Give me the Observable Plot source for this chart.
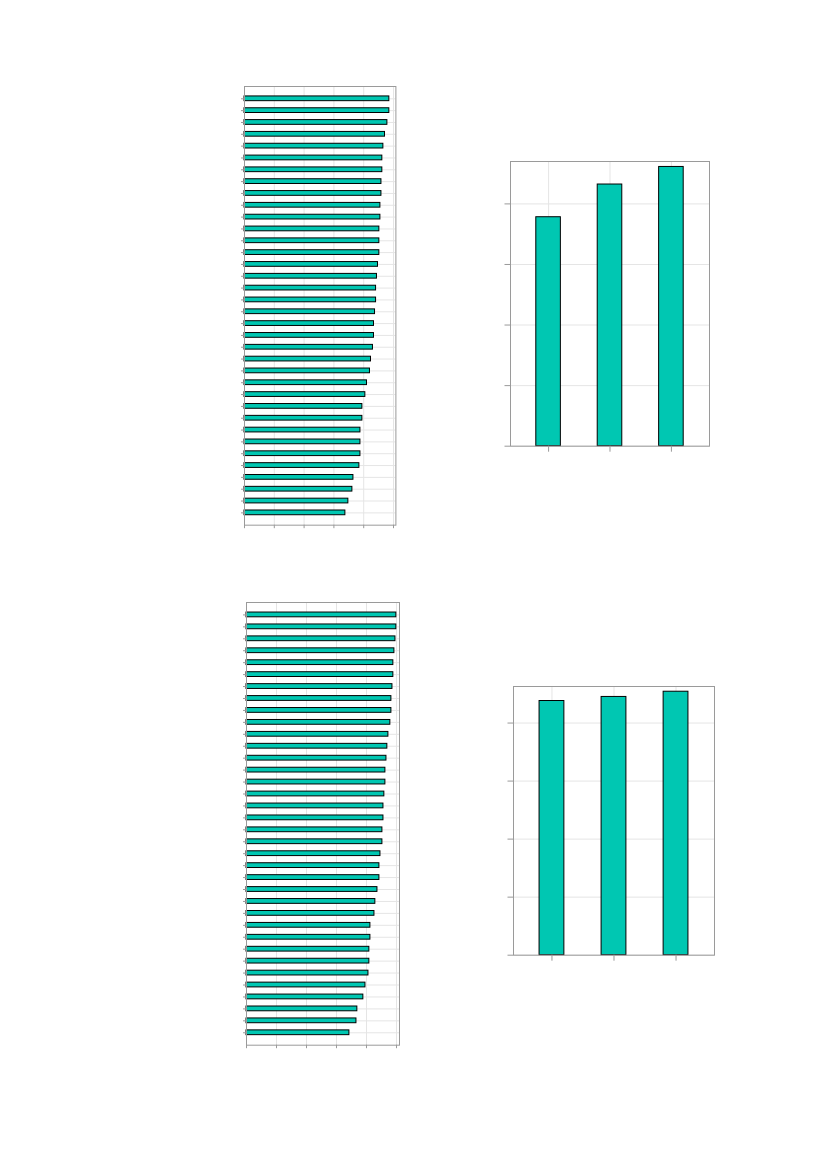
<!DOCTYPE html>
<html>
<head>
<meta charset="utf-8">
<script src="https://cdn.jsdelivr.net/npm/d3@7"></script>
<script src="https://cdn.jsdelivr.net/npm/@observablehq/plot@0.6"></script>
<style>
  html, body { margin: 0; padding: 0; background: #fff; }
  #page { position: relative; width: 827px; height: 1169px; overflow: hidden; font-family: "Liberation Sans", sans-serif; }
  .panel { position: absolute; }
</style>
</head>
<body>
<div id="page"></div>
<script>
// ---- data ----
const rowCategories = d3.range(1, 37).map(String);
const topLeftValues = [97.2, 97.2, 95.9, 94.3, 93.2, 92.5, 92.5, 91.9, 91.9, 91.2, 91.2, 90.5,
  90.5, 90.5, 89.6, 88.9, 88.3, 88.3, 87.6, 86.9, 86.9, 86.2, 84.9, 84.2,
  82.2, 81.1, 79.1, 79.1, 77.8, 77.8, 77.8, 77.1, 73.1, 72.4, 69.7, 67.7];
const bottomLeftValues = [99.9, 99.9, 99.3, 98.6, 97.9, 97.9, 97.3, 96.6, 96.6, 95.9, 94.6, 93.9,
  93.3, 92.6, 92.6, 91.9, 91.3, 91.3, 90.6, 90.6, 89.3, 88.6, 88.6, 87.3,
  85.9, 85.3, 82.6, 82.6, 81.9, 81.9, 81.3, 79.3, 77.9, 73.9, 73.3, 68.6];
const groupCategories = ["A", "B", "C"];
const topRightValues = [75.6, 86.4, 92.2];
const bottomRightValues = [87.6, 89.0, 90.8];
const leftTicks = [0, 20, 40, 60, 80, 100];
const rightTicks = [0, 20, 40, 60, 80];

const FILL = "#00C7B2";
const GRID = "#e5e5e5";
const FRAME = "#9a9a9a";
const M = 20;
const page = document.getElementById("page");

function place(svg, left, top) {
  const div = document.createElement("div");
  div.className = "panel";
  div.style.left = (left - M) + "px";
  div.style.top = (top - M) + "px";
  div.appendChild(svg);
  page.appendChild(div);
}

function hbarChart(values, xmax, fl, ft, fw, fh) {
  const data = rowCategories.map((k, i) => ({k, v: values[i]}));
  const svg = Plot.plot({
    width: fw + 2 * M, height: fh + 2 * M,
    marginLeft: M, marginRight: M, marginTop: M, marginBottom: M,
    style: {background: "transparent"},
    x: {domain: [0, xmax], ticks: leftTicks, label: null},
    y: {domain: rowCategories, paddingInner: 0.6, paddingOuter: 0.84, round: false, label: null},
    marks: [
      Plot.gridX(leftTicks, {stroke: GRID, strokeOpacity: 1}),
      Plot.gridY(rowCategories, {stroke: GRID, strokeOpacity: 1}),
      Plot.barX(data, {x: "v", y: "k", fill: FILL, stroke: "black", strokeWidth: 1}),
      Plot.axisX(leftTicks, {tickSize: 3.5, stroke: FRAME, tickFormat: () => "", label: null}),
      Plot.axisY(rowCategories, {tickSize: 3, stroke: FRAME, tickFormat: () => "", label: null}),
      Plot.frame({stroke: FRAME})
    ]
  });
  place(svg, fl, ft);
}

function vbarChart(values, ymax, fl, ft, fw, fh) {
  const data = groupCategories.map((k, i) => ({k, v: values[i]}));
  const svg = Plot.plot({
    width: fw + 2 * M, height: fh + 2 * M,
    marginLeft: M, marginRight: M, marginTop: M, marginBottom: M,
    style: {background: "transparent"},
    x: {domain: groupCategories, paddingInner: 0.6, paddingOuter: 0.42, round: false, label: null},
    y: {domain: [0, ymax], ticks: rightTicks, label: null},
    marks: [
      Plot.gridY(rightTicks, {stroke: GRID, strokeOpacity: 1}),
      Plot.gridX(groupCategories, {stroke: GRID, strokeOpacity: 1}),
      Plot.barY(data, {x: "k", y: "v", fill: FILL, stroke: "black", strokeWidth: 1}),
      Plot.axisX(groupCategories, {tickSize: 6, stroke: FRAME, tickFormat: () => "", label: null}),
      Plot.axisY(rightTicks, {tickSize: 5.5, stroke: FRAME, tickFormat: () => "", label: null}),
      Plot.frame({stroke: FRAME})
    ]
  });
  place(svg, fl, ft);
}

hbarChart(topLeftValues, 101.6, 244.3, 86.3, 151.4, 438.7);
hbarChart(bottomLeftValues, 102, 246.3, 602.3, 153, 442.7);
vbarChart(topRightValues, 94, 510.3, 161.3, 199, 284.7);
vbarChart(bottomRightValues, 92.6, 513.3, 686.3, 201, 268.7);
</script>
</body>
</html>
